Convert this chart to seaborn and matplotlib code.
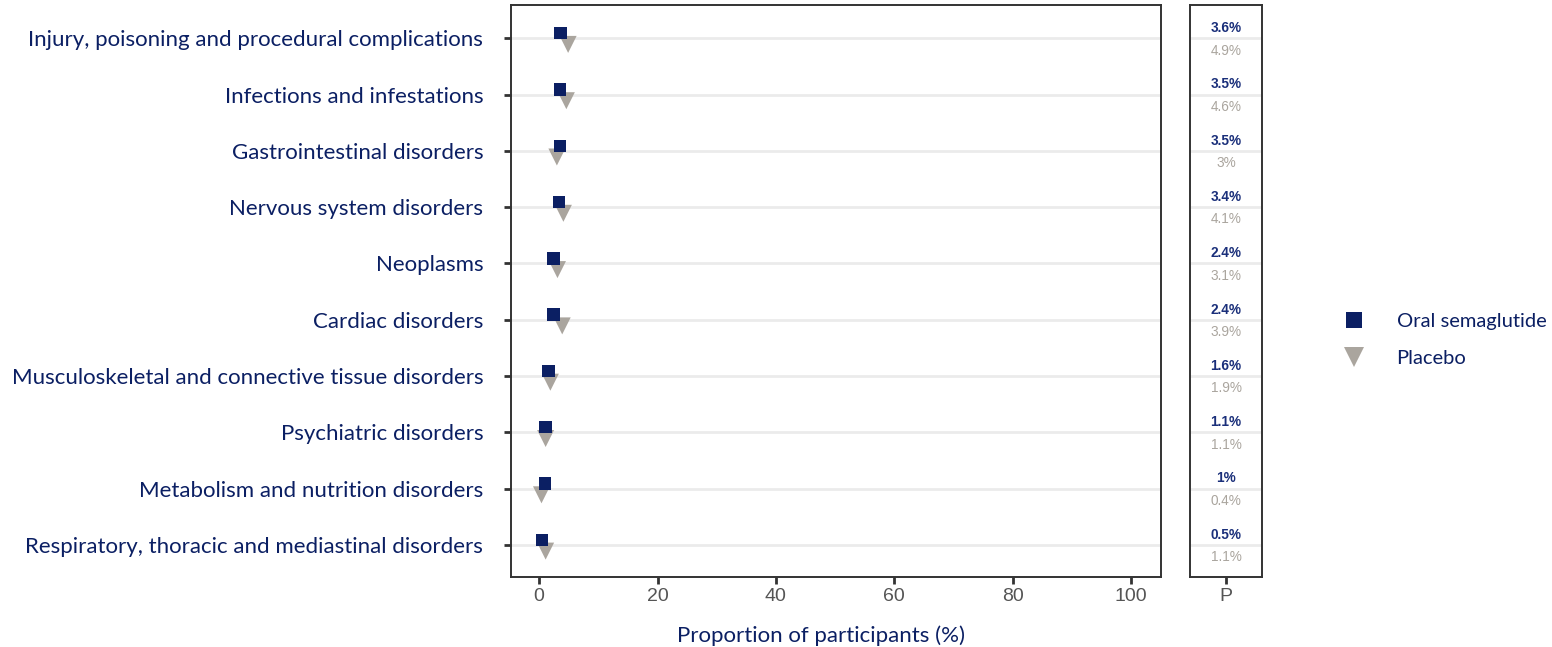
import numpy as np
import pandas as pd
import matplotlib
matplotlib.use("Agg")
import matplotlib.pyplot as plt
import seaborn as sns
from matplotlib.lines import Line2D

categories = [
    "Injury, poisoning and procedural complications",
    "Infections and infestations",
    "Gastrointestinal disorders",
    "Nervous system disorders",
    "Neoplasms",
    "Cardiac disorders",
    "Musculoskeletal and connective tissue disorders",
    "Psychiatric disorders",
    "Metabolism and nutrition disorders",
    "Respiratory, thoracic and mediastinal disorders",
]
sema = [3.6, 3.5, 3.5, 3.4, 2.4, 2.4, 1.6, 1.1, 1.0, 0.5]
placebo = [4.9, 4.6, 3.0, 4.1, 3.1, 3.9, 1.9, 1.1, 0.4, 1.1]
sema_lbl = ["3.6%", "3.5%", "3.5%", "3.4%", "2.4%", "2.4%", "1.6%", "1.1%", "1%", "0.5%"]
plac_lbl = ["4.9%", "4.6%", "3%", "4.1%", "3.1%", "3.9%", "1.9%", "1.1%", "0.4%", "1.1%"]
groups = ["Oral semaglutide", "Placebo"]
xticks = [0, 20, 40, 60, 80, 100]

NAVY = "#0b1f63"
NAVY_TXT = "#1a2f7a"
GREY = "#aaa59e"
DARK = "#333333"
TICKGREY = "#555555"

sns.set_theme(style="white")
plt.rcParams["font.family"] = ["Lato", "DejaVu Sans"]

fig = plt.figure(figsize=(15.52, 6.47), dpi=100)
ax = fig.add_axes([511/1552, 1-577/647, 650/1552, 572/647])
ax2 = fig.add_axes([1190/1552, 1-577/647, 72/1552, 572/647])

idx = np.arange(len(categories))
df = pd.DataFrame({
    "value": sema + placebo,
    "pos": np.concatenate([idx - 0.09, idx + 0.11]),
    "group": [groups[0]] * len(sema) + [groups[1]] * len(placebo),
})

for i in idx:
    ax.axhline(i, color="#ebebeb", lw=2, zorder=0)
    ax2.axhline(i, color="#ebebeb", lw=2, zorder=0)

sns.scatterplot(data=df[df.group == groups[0]], x="value", y="pos", color=NAVY,
                marker="s", s=80, edgecolor="none", ax=ax, legend=False, zorder=3)
sns.scatterplot(data=df[df.group == groups[1]], x="value", y="pos", color=GREY,
                marker="v", s=150, edgecolor="none", ax=ax, legend=False, zorder=2)

ax.set_xlim(-4.75, 105.05)
ax.set_ylim(len(categories) - 1 + 0.57, -0.59)
ax.set_yticks(idx)
ax.set_yticklabels(categories, color=NAVY, fontsize=16)
ax.set_xticks(xticks)
ax.set_xticklabels([str(t) for t in xticks], color=TICKGREY, fontsize=14,
                   family=["Liberation Sans", "DejaVu Sans"])
ax.set_xlabel("Proportion of participants (%)", color=NAVY, fontsize=16)
ax.xaxis.set_label_coords(0.477, -0.085)
ax.set_ylabel("")
ax.tick_params(axis="both", length=5, width=2, color=DARK, left=True, bottom=True)
ax.tick_params(axis="y", pad=15)
ax.tick_params(axis="x", pad=3)
for sp in ax.spines.values():
    sp.set_color(DARK)
    sp.set_linewidth(1.4)

ax2.set_xlim(0, 1)
ax2.set_ylim(len(categories) - 1 + 0.57, -0.59)
for i in idx:
    ax2.text(0.5, i - 0.18, sema_lbl[i], ha="center", va="center", color=NAVY_TXT,
             fontsize=9.8, fontweight="bold", family=["Liberation Sans", "DejaVu Sans"])
    ax2.text(0.5, i + 0.22, plac_lbl[i], ha="center", va="center", color=GREY,
             fontsize=9.8, family=["Liberation Sans", "DejaVu Sans"])
ax2.set_yticks([])
ax2.set_xticks([0.5])
ax2.set_xticklabels(["P"], color=TICKGREY, fontsize=14,
                    family=["Liberation Sans", "DejaVu Sans"])
ax2.tick_params(axis="x", length=5, width=2, color=DARK, bottom=True, pad=3)
for sp in ax2.spines.values():
    sp.set_color(DARK)
    sp.set_linewidth(1.4)

handles = [
    Line2D([], [], marker="s", color=NAVY, linestyle="none", markersize=12, markeredgewidth=0),
    Line2D([], [], marker="v", color=GREY, linestyle="none", markersize=14, markeredgewidth=0),
]
leg = fig.legend(handles, groups, loc="center left", bbox_to_anchor=(1316/1552, 1-340/647),
                 frameon=False, fontsize=14.5, handletextpad=1.1, labelspacing=0.95)
for t in leg.get_texts():
    t.set_color(NAVY)

fig.savefig("out.png", dpi=100)
